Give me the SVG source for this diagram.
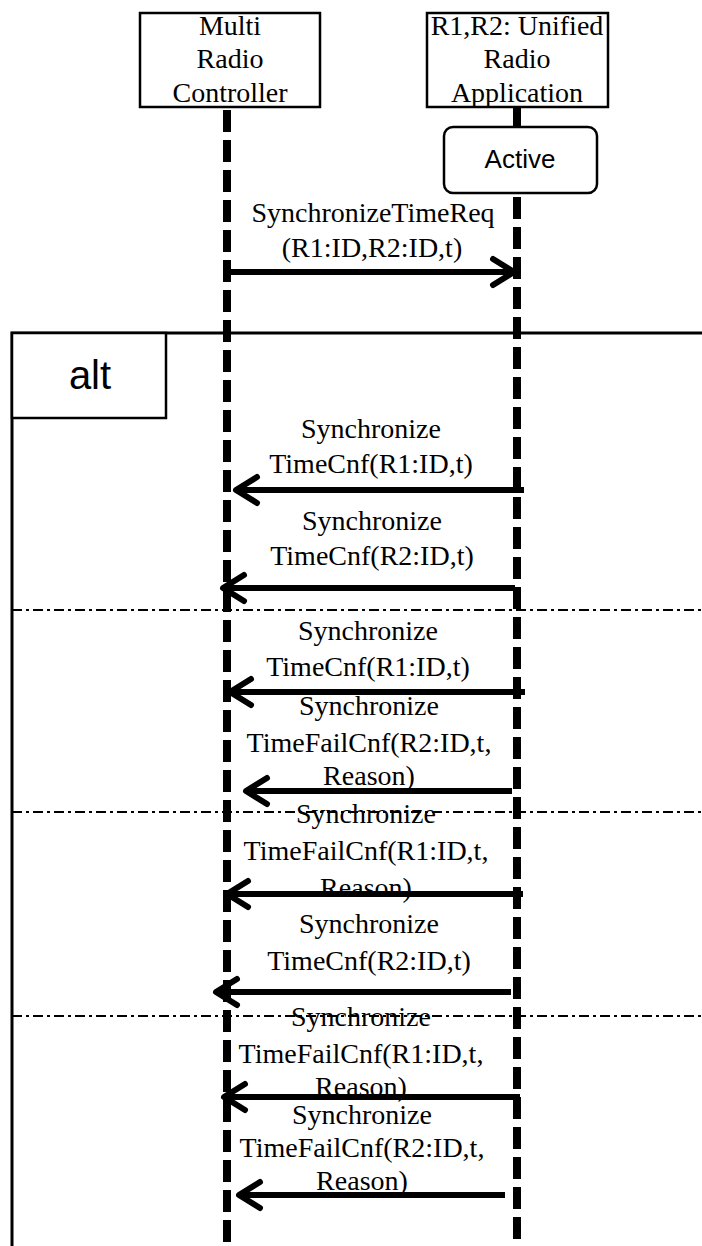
<svg xmlns="http://www.w3.org/2000/svg" width="702" height="1246" viewBox="0 0 702 1246">
<style>
.t{font-family:"Liberation Serif","Times New Roman",serif;font-size:28px;fill:#000;text-anchor:middle}
.s{font-family:"Liberation Sans",Arial,sans-serif;fill:#000;text-anchor:middle}
.box{fill:#fff;stroke:#000;stroke-width:2.5}
.life{stroke:#000;stroke-width:8;stroke-dasharray:22 8;fill:none}
.msg{stroke:#000;stroke-width:6;fill:none;marker-end:url(#ah)}
.div{stroke:#000;stroke-width:2;stroke-dasharray:10 4 3 4;fill:none}
.frame{stroke:#000;stroke-width:3;fill:none}
</style>
<defs>
<marker id="ah" markerUnits="userSpaceOnUse" viewBox="-30 -20 40 40" markerWidth="40" markerHeight="40" refX="0" refY="0" orient="auto">
<path d="M-21,-13 L0,0 L-21,13" fill="none" stroke="#000" stroke-width="6" stroke-linecap="round" stroke-linejoin="round"/>
</marker>
</defs>
<rect width="702" height="1246" fill="#fff"/>
<g id="alt-frame">
<path class="frame" d="M12,1246 V333 H702"/>
<rect class="box" x="12" y="333" width="154" height="85" stroke-width="3"/>
<text class="s" x="90" y="389" font-size="40">alt</text>
<line class="div" x1="12" y1="610" x2="702" y2="610"/>
<line class="div" x1="12" y1="812" x2="702" y2="812"/>
<line class="div" x1="12" y1="1016" x2="702" y2="1016"/>
</g>
<g id="node-mrc">
<rect class="box" x="140" y="13" width="180" height="94"/>
<text class="t" x="230" y="35">Multi</text>
<text class="t" x="230" y="68">Radio</text>
<text class="t" x="230" y="102">Controller</text>
<line class="life" x1="227" y1="110" x2="227" y2="1246"/>
</g>
<g id="node-ura">
<rect class="box" x="427" y="13" width="181" height="94"/>
<text class="t" x="517" y="35">R1,R2: Unified</text>
<text class="t" x="517" y="68">Radio</text>
<text class="t" x="517" y="102">Application</text>
<line x1="517" y1="107" x2="517" y2="127" stroke="#000" stroke-width="8"/>
<line class="life" x1="517" y1="197" x2="517" y2="1246"/>
</g>
<g id="node-active">
<rect class="box" x="444" y="127" width="153" height="66" rx="9"/>
<text class="s" x="520" y="168" font-size="26">Active</text>
</g>
<g id="labels">
<text class="t" x="373" y="222">SynchronizeTimeReq</text>
<text class="t" x="372" y="257">(R1:ID,R2:ID,t)</text>
<text class="t" x="371" y="438">Synchronize</text>
<text class="t" x="371" y="473">TimeCnf(R1:ID,t)</text>
<text class="t" x="372" y="530">Synchronize</text>
<text class="t" x="372" y="565">TimeCnf(R2:ID,t)</text>
<text class="t" x="368" y="640">Synchronize</text>
<text class="t" x="368" y="676">TimeCnf(R1:ID,t)</text>
<text class="t" x="369" y="715">Synchronize</text>
<text class="t" x="369" y="752">TimeFailCnf(R2:ID,t,</text>
<text class="t" x="369" y="785">Reason)</text>
<text class="t" x="366" y="823">Synchronize</text>
<text class="t" x="366" y="860">TimeFailCnf(R1:ID,t,</text>
<text class="t" x="366" y="897">Reason)</text>
<text class="t" x="369" y="933">Synchronize</text>
<text class="t" x="369" y="970">TimeCnf(R2:ID,t)</text>
<text class="t" x="361" y="1026">Synchronize</text>
<text class="t" x="361" y="1063">TimeFailCnf(R1:ID,t,</text>
<text class="t" x="361" y="1096">Reason)</text>
<text class="t" x="362" y="1124">Synchronize</text>
<text class="t" x="362" y="1157">TimeFailCnf(R2:ID,t,</text>
<text class="t" x="362" y="1190">Reason)</text>
</g>
<g id="connectors">
<line class="msg" x1="224" y1="272" x2="514" y2="272"/>
<line class="msg" x1="524" y1="490" x2="236" y2="490"/>
<line class="msg" x1="515" y1="588" x2="223" y2="588"/>
<line class="msg" x1="525" y1="692" x2="230" y2="692"/>
<line class="msg" x1="512" y1="791" x2="246" y2="791"/>
<line class="msg" x1="523" y1="894" x2="227" y2="894"/>
<line class="msg" x1="511" y1="992" x2="216" y2="992"/>
<line class="msg" x1="520" y1="1097" x2="224" y2="1097"/>
<line class="msg" x1="505" y1="1195" x2="239" y2="1195"/>
</g>
</svg>
